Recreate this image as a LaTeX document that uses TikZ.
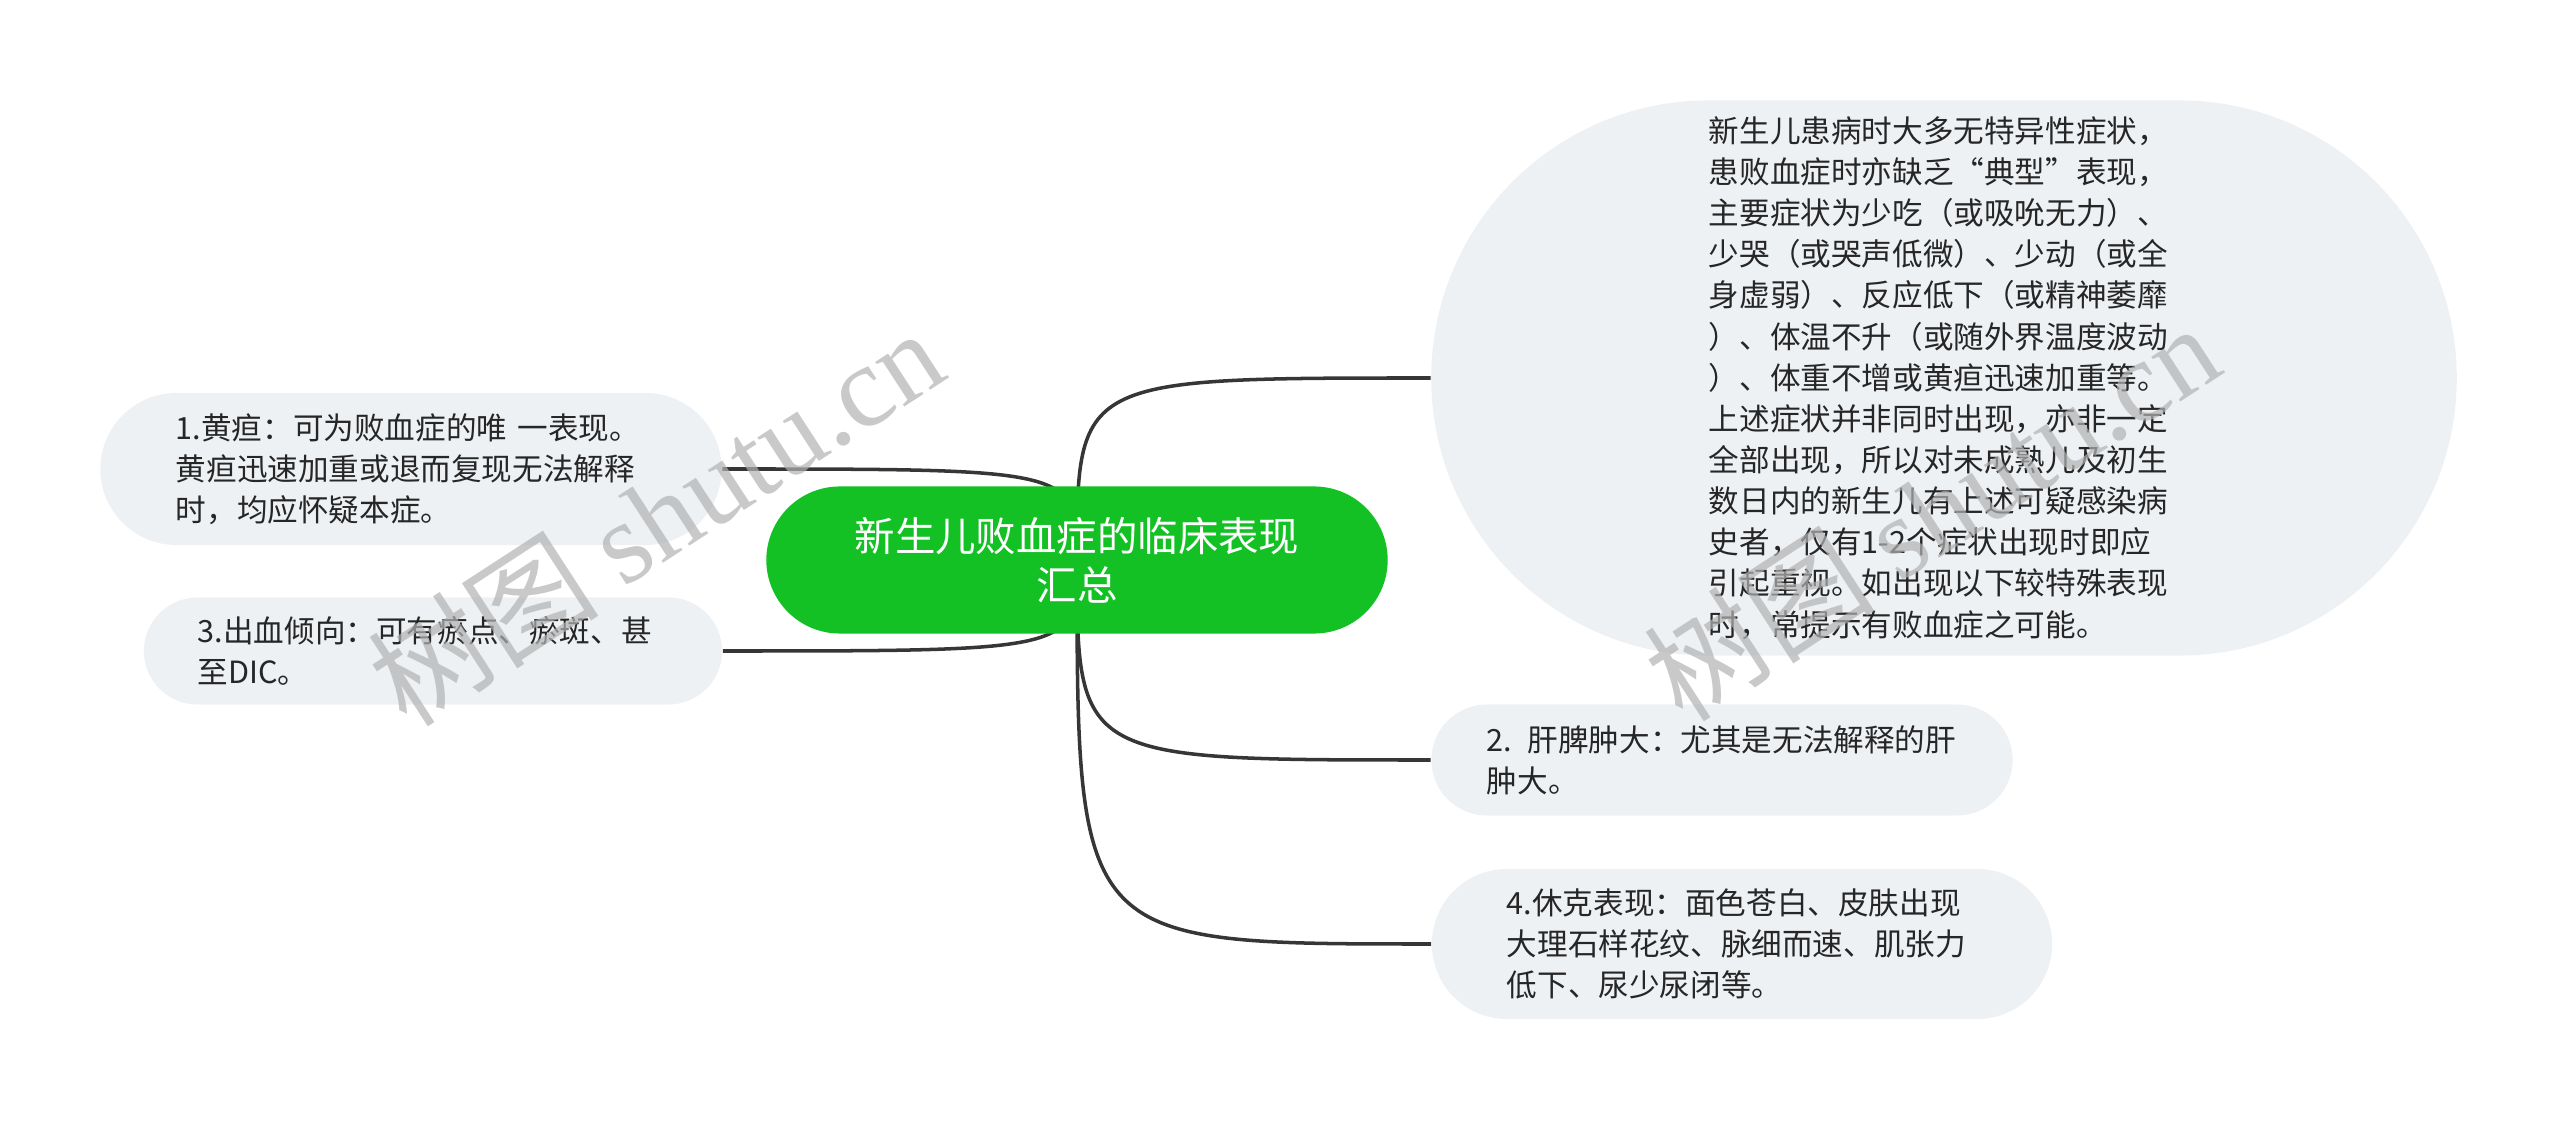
\documentclass[tikz,border=0pt]{standalone}
\usepackage{fontspec}
\setmainfont{Noto Sans CJK SC}
\newfontfamily\wmfont{Liberation Serif}
\usetikzlibrary{backgrounds}
\definecolor{rootgreen}{HTML}{13C125}
\definecolor{leafgray}{HTML}{EEF1F4}
\definecolor{linkgray}{HTML}{363636}
\definecolor{textgray}{HTML}{262626}

\begin{document}
\begin{tikzpicture}[x=0.01cm,y=-0.01cm,
  root/.style={fill=rootgreen,text=white,align=center,inner sep=0pt,
    font=\fontsize{11.5pt}{13.9pt}\selectfont},
  leaf/.style={fill=leafgray,text=textgray,align=left,inner sep=0pt,text width=4.7cm,
    font=\fontsize{8.7pt}{11.7pt}\selectfont},
  link/.style={draw=linkgray,line width=1pt},
  wmtext/.style={text=black!30,text opacity=0.7,rotate=33,
    font=\fontsize{33pt}{33pt}\selectfont}]
\useasboundingbox (0,0) rectangle (2560,1122);
\node[root,minimum width=6.21cm,minimum height=1.47cm,rounded corners=0.735cm] (root) at (1077,560) {新生儿败血症的临床表现\\汇总};
\node[leaf,minimum width=6.21cm,minimum height=1.52cm,rounded corners=0.76cm] (n1) at (411,469) {1.黄疸：可为败血症的唯 一表现。\\黄疸迅速加重或退而复现无法解释\\时，均应怀疑本症。};
\node[leaf,minimum width=5.78cm,minimum height=1.07cm,rounded corners=0.535cm] (n3) at (433,651) {3.出血倾向：可有瘀点、瘀斑、甚\\至DIC。};
\node[leaf,minimum width=10.25cm,minimum height=5.55cm,rounded corners=2.775cm] (intro) at (1944,378) {新生儿患病时大多无特异性症状，\\患败血症时亦缺乏“典型”表现，\\主要症状为少吃（或吸吮无力）、\\少哭（或哭声低微）、少动（或全\\身虚弱）、反应低下（或精神萎靡\\）、体温不升（或随外界温度波动\\）、体重不增或黄疸迅速加重等。\\上述症状并非同时出现，亦非一定\\全部出现，所以对未成熟儿及初生\\数日内的新生儿有上述可疑感染病\\史者，仅有1-2个症状出现时即应\\引起重视。如出现以下较特殊表现\\时，常提示有败血症之可能。};
\node[leaf,minimum width=5.81cm,minimum height=1.11cm,rounded corners=0.555cm] (n2) at (1722,760) {2. 肝脾肿大：尤其是无法解释的肝\\肿大。};
\node[leaf,minimum width=6.2cm,minimum height=1.5cm,rounded corners=0.75cm] (n4) at (1742,944) {4.休克表现：面色苍白、皮肤出现\\大理石样花纹、脉细而速、肌张力\\低下、尿少尿闭等。};
\begin{scope}[on background layer]
\draw[link] (root.center) .. controls (root.center |- n1.east) .. (n1.east);
\draw[link] (root.center) .. controls (root.center |- n3.east) .. (n3.east);
\draw[link] (root.center) .. controls (root.center |- intro.west) .. (intro.west);
\draw[link] (root.center) .. controls (root.center |- n2.west) .. (n2.west);
\draw[link] (root.center) .. controls (root.center |- n4.west) .. (n4.west);
\end{scope}
% watermark
\node[wmtext] (wm1) at (655,516) {树图 {\wmfont shutu.cn}};
\node[wmtext] (wm2) at (1931,511) {树图 {\wmfont shutu.cn}};
\end{tikzpicture}
\end{document}
